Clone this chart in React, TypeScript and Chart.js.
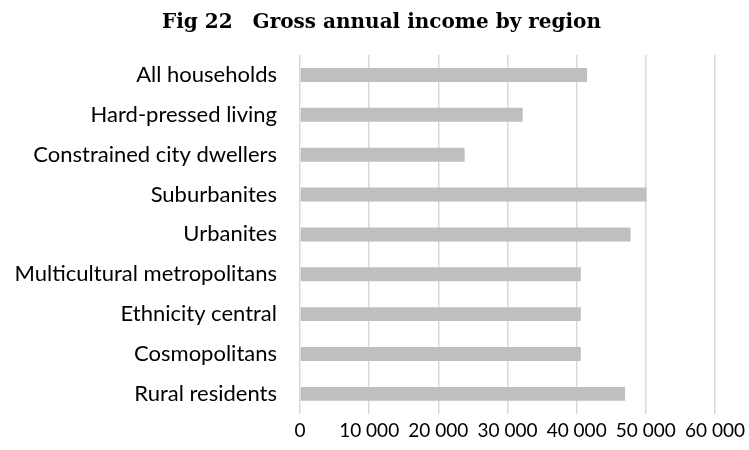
import React, { useEffect, useRef } from "react";
import { Chart, registerables } from "chart.js";

Chart.register(...registerables);

const categories = [
  "All households",
  "Hard-pressed living",
  "Constrained city dwellers",
  "Suburbanites",
  "Urbanites",
  "Multicultural metropolitans",
  "Ethnicity central",
  "Cosmopolitans",
  "Rural residents",
];
const incomeValues = [41500, 32200, 23800, 50100, 47800, 40600, 40600, 40600, 47000];
const xTickValues = [0, 10000, 20000, 30000, 40000, 50000, 60000];
const titleText = "Fig 22\u3000Gross annual income by region";

const fmt = (v: number) => (v === 0 ? "0" : String(v).replace(/\B(?=(\d{3})+(?!\d))/g, " "));

const titlePlugin = {
  id: "customTitle",
  afterDraw(chart: any) {
    const ctx = chart.ctx;
    ctx.save();
    ctx.font = "bold 20px 'DejaVu Serif', serif";
    ctx.fillStyle = "#000";
    ctx.textAlign = "center";
    ctx.textBaseline = "alphabetic";
    ctx.fillText(titleText, 381.5, 28);
    ctx.restore();
  },
};

export default function App() {
  const ref = useRef<HTMLCanvasElement | null>(null);
  useEffect(() => {
    document.body.style.margin = "0";
    const ctx = ref.current!;
    const chart = new Chart(ctx, {
      type: "bar",
      data: {
        labels: categories,
        datasets: [
          {
            data: incomeValues,
            backgroundColor: "#bfbfbf",
            borderWidth: 0,
            barPercentage: 0.7,
            categoryPercentage: 0.5,
          },
        ],
      },
      options: {
        indexAxis: "y",
        responsive: false,
        animation: false,
        layout: { padding: { left: 0, right: 34, top: 55, bottom: 0 } },
        plugins: {
          legend: { display: false },
          tooltip: { enabled: false },
          title: { display: false },
        },
        scales: {
          x: {
            min: 0,
            max: 60000,
            afterBuildTicks: (axis: any) => {
              axis.ticks = xTickValues.map((v) => ({ value: v }));
            },
            afterFit: (axis: any) => {
              axis.paddingRight = 0;
              axis.paddingLeft = 0;
            },
            grid: { color: "#d9d9d9", lineWidth: 1.5, drawTicks: false },
            border: { display: false },
            ticks: {
              color: "#000",
              padding: 8,
              maxRotation: 0,
              font: { family: "Lato, sans-serif", size: 19, lineHeight: 1.0 },
              callback: (v: any) => fmt(Number(v)),
            },
          },
          y: {
            grid: { display: false, drawTicks: false },
            border: { display: false },
            afterFit: (axis: any) => {
              axis.width = 300;
            },
            ticks: {
              color: "#000",
              padding: 23,
              font: { family: "Lato, sans-serif", size: 22 },
            },
          },
        },
      },
      plugins: [titlePlugin],
    });
    return () => chart.destroy();
  }, []);
  return (
    <div style={{ width: 749, height: 450 }}>
      <canvas ref={ref} width={749} height={450} />
    </div>
  );
}
